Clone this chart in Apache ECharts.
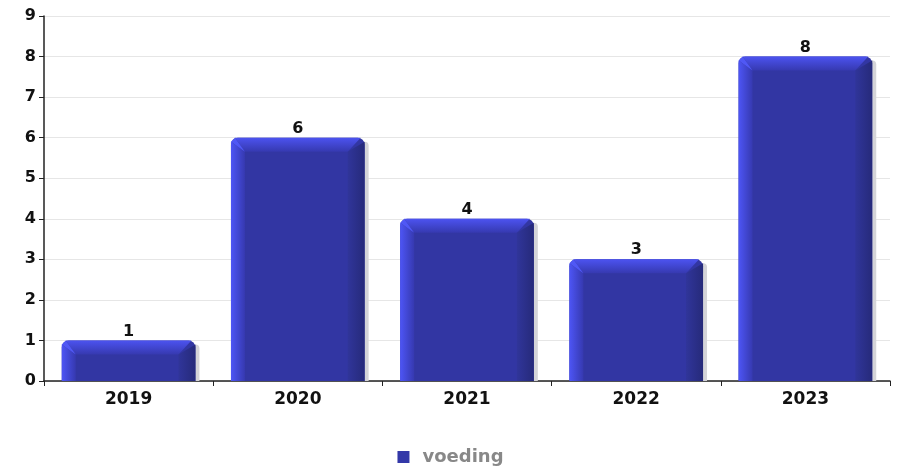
<!DOCTYPE html>
<html><head><meta charset="utf-8">
<script src="https://cdn.jsdelivr.net/npm/echarts@6/dist/echarts.min.js"></script>
<style>html,body{margin:0;padding:0;background:#fff}#c{width:901px;height:468px}</style>
</head><body><div id="c"></div>
<script>
const categories = ['2019', '2020', '2021', '2022', '2023'];
const values = [1, 6, 4, 3, 8];
const seriesName = 'voeding';
const yTicks = [0, 1, 2, 3, 4, 5, 6, 7, 8, 9];

const chart = echarts.init(document.getElementById('c'));
const FONT = '"DejaVu Sans", sans-serif';

function lg(x0, y0, x1, y1, c0, c1) {
  return new echarts.graphic.LinearGradient(x0, y0, x1, y1, [{offset: 0, color: c0}, {offset: 1, color: c1}]);
}

function renderItem(params, api) {
  const xi = api.value(0), v = api.value(1);
  const top = api.coord([xi, v]);
  const base = api.coord([xi, 0]);
  const w = api.size([1, 0])[0] * 0.79;
  const x0 = top[0] - w / 2, x1 = top[0] + w / 2;
  const yt = top[1], yb = base[1];
  const b = 14;
  const br = 17;
  return {
    type: 'group',
    children: [
      {type: 'rect', shape: {x: x1 - 2, y: yt + 4, width: 6, height: yb - yt - 4, r: [0, 4, 0, 0]}, style: {fill: '#d4d4d8'}},
      {type: 'rect', shape: {x: x0, y: yt, width: w, height: yb - yt, r: [7, 7, 0, 0]}, style: {fill: '#3236a3'}},
      {type: 'polygon', shape: {points: [[x0, yt + 4], [x0 + b, yt + b], [x0 + b, yb], [x0, yb]]}, style: {fill: lg(0, 0, 1, 0, '#4d55f5', '#3639b0')}},
      {type: 'polygon', shape: {points: [[x0 + 4, yt], [x1 - 4, yt], [x1 - br, yt + b], [x0 + b, yt + b]]}, style: {fill: lg(0, 0, 0, 1, '#4c53f0', '#3639b0')}},
      {type: 'polygon', shape: {points: [[x1, yt + 4], [x1, yb], [x1 - br, yb], [x1 - br, yt + b]]}, style: {fill: lg(0, 0, 1, 0, '#30359a', '#262a7a')}},
      {type: 'polygon', shape: {points: [[x0 + 4, yt], [x0 + b, yt + b], [x0, yt + 4]]}, style: {fill: '#5058f5'}},
      {type: 'text', style: {text: String(v), x: top[0], y: yt - 1, align: 'center', verticalAlign: 'bottom', font: 'bold 16px ' + FONT, fill: '#111'}}
    ]
  };
}

chart.setOption({
  animation: false,
  grid: {left: 44, right: 11, top: 16, bottom: 87},
  legend: {
    top: 443, left: 'center',
    data: [{name: seriesName, icon: 'rect'}],
    itemWidth: 12, itemHeight: 12, itemGap: 8,
    textStyle: {color: '#888', fontWeight: 'bold', fontSize: 18, fontFamily: FONT, padding: [0, 0, 0, 8]}
  },
  xAxis: {
    type: 'category', data: categories,
    axisLine: {lineStyle: {color: '#222', width: 1.5}},
    axisTick: {show: true, length: 5, lineStyle: {color: '#222'}},
    axisLabel: {color: '#111', fontWeight: 'bold', fontSize: 17, fontFamily: FONT, margin: 10}
  },
  yAxis: {
    type: 'value', min: yTicks[0], max: yTicks[yTicks.length - 1], interval: 1,
    axisLine: {show: true, lineStyle: {color: '#222', width: 1.5}},
    axisTick: {show: true, length: 5, lineStyle: {color: '#222'}},
    axisLabel: {color: '#111', fontWeight: 'bold', fontSize: 16, fontFamily: FONT, margin: 8},
    splitLine: {lineStyle: {color: '#e6e6e6'}}
  },
  series: [{
    name: seriesName, type: 'custom', renderItem: renderItem,
    itemStyle: {color: '#3338a8'},
    encode: {x: 0, y: 1},
    data: values.map((v, i) => [i, v])
  }]
});
</script></body></html>
